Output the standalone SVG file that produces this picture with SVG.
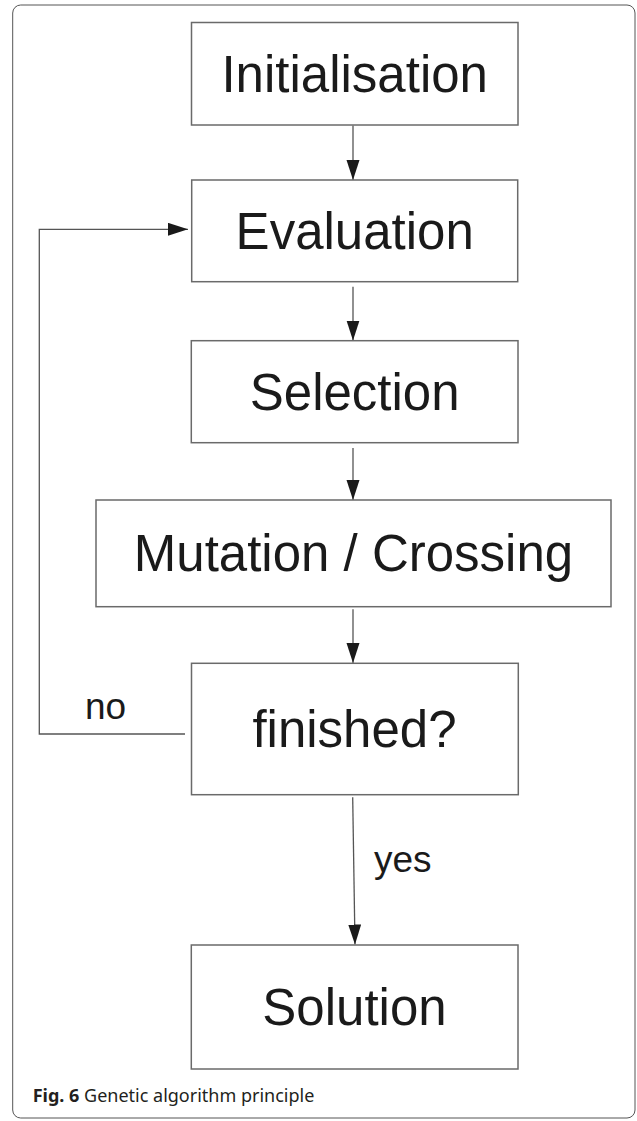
<svg xmlns="http://www.w3.org/2000/svg" width="637" height="1121" viewBox="0 0 637 1121">
<style>
.box{fill:#fff;stroke:#6a6a6a;stroke-width:1.5}
.lbl{font-family:"Liberation Sans",Arial,sans-serif;font-size:51px;fill:#1a1a1a;text-anchor:middle}
.small{font-family:"Liberation Sans",Arial,sans-serif;font-size:37px;fill:#1a1a1a}
.conn{fill:none;stroke:#555;stroke-width:1.3}
.cap{font-family:"Noto Sans","Open Sans",sans-serif;font-size:18px;fill:#231f20}
</style>
<defs>
<marker id="ah" markerUnits="userSpaceOnUse" markerWidth="20" markerHeight="14" refX="20" refY="6.5" orient="auto">
<path d="M0,0 L20,6.5 L0,13 Z" fill="#1a1a1a"/>
</marker>
</defs>
<rect x="12.7" y="5" width="622.3" height="1113" rx="8" fill="#fff" stroke="#555" stroke-width="1"/>
<g id="connectors">
<line class="conn" x1="353" y1="125.5" x2="353" y2="180" marker-end="url(#ah)"/>
<line class="conn" x1="353" y1="286.7" x2="353" y2="340.5" marker-end="url(#ah)"/>
<line class="conn" x1="353" y1="448" x2="353" y2="500" marker-end="url(#ah)"/>
<line class="conn" x1="353" y1="609.3" x2="353" y2="663" marker-end="url(#ah)"/>
<line class="conn" x1="352.7" y1="797.3" x2="355" y2="944.5" marker-end="url(#ah)"/>
<polyline class="conn" points="185,734 39.3,734 39.3,229.3 188,229.3" marker-end="url(#ah)"/>
<text class="small" x="85" y="719">no</text>
<text class="small" x="374" y="871.7">yes</text>
</g>
<g id="init">
<rect class="box" x="191.5" y="22.5" width="326.5" height="102.5"/>
<text class="lbl" x="354.7" y="91.7">Initialisation</text>
</g>
<g id="eval">
<rect class="box" x="191.7" y="180" width="326" height="101.7"/>
<text class="lbl" x="354.7" y="249">Evaluation</text>
</g>
<g id="sel">
<rect class="box" x="191.3" y="340.7" width="326.7" height="102"/>
<text class="lbl" x="354.7" y="410">Selection</text>
</g>
<g id="mut">
<rect class="box" x="96" y="500" width="515" height="106.7"/>
<text class="lbl" x="353.5" y="570.7">Mutation / Crossing</text>
</g>
<g id="fin">
<rect class="box" x="191.5" y="663.3" width="326.8" height="131.4"/>
<text class="lbl" x="354.5" y="746.7">finished?</text>
</g>
<g id="sol">
<rect class="box" x="191.3" y="945" width="326.7" height="124"/>
<text class="lbl" x="354.5" y="1025">Solution</text>
</g>
<text class="cap" x="32.7" y="1101.7"><tspan font-weight="bold">Fig. 6</tspan> Genetic algorithm principle</text>
</svg>
